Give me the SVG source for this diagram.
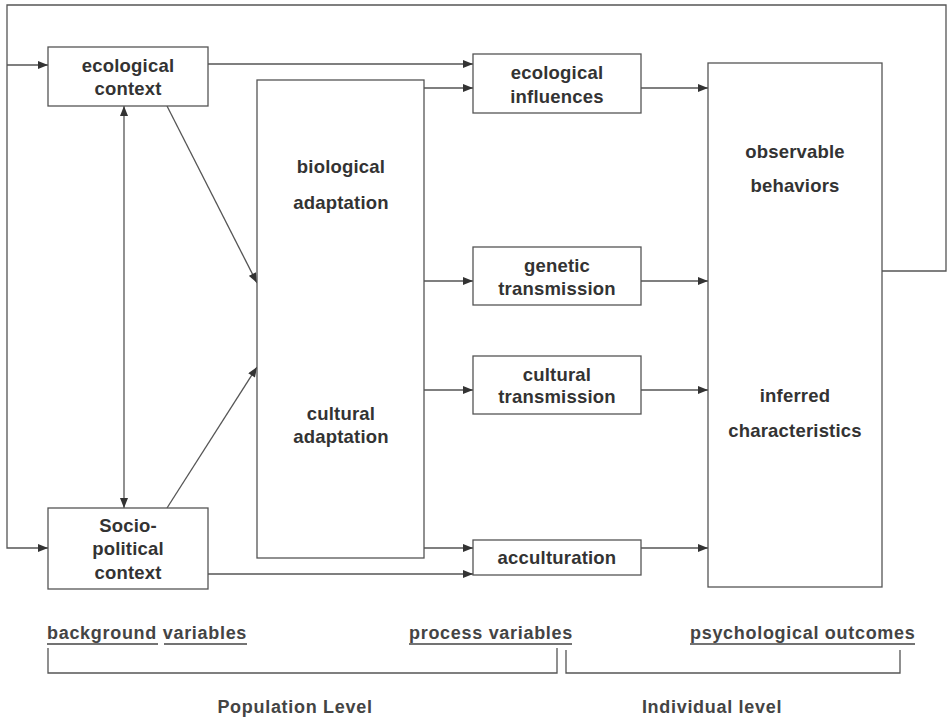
<svg xmlns="http://www.w3.org/2000/svg" width="948" height="719" viewBox="0 0 948 719">
<style>
.box{fill:#fff;stroke:#555;stroke-width:1.3}
.ln{fill:none;stroke:#555;stroke-width:1.3}
.t{font-family:"Liberation Sans",Arial,sans-serif;font-weight:bold;font-size:18.5px;fill:#333;text-anchor:middle;letter-spacing:0.2px}
.b{font-family:"Liberation Sans",Arial,sans-serif;font-weight:bold;font-size:18px;fill:#444;letter-spacing:0.7px}
.u{stroke:#444;stroke-width:1.5}
</style>
<defs>
<marker id="ah" viewBox="0 0 10 8" refX="10" refY="4" markerWidth="11" markerHeight="8" markerUnits="userSpaceOnUse" orient="auto-start-reverse">
<path d="M0,0 L10,4 L0,8 Z" fill="#333"/>
</marker>
</defs>
<rect width="948" height="719" fill="#fff"/>
<g id="connectors">
<path class="ln" d="M882,271 H946 V5 H7 V548 H48" marker-end="url(#ah)"/>
<path class="ln" d="M7,65 H48" marker-end="url(#ah)"/>
<path class="ln" d="M208,64 H473" marker-end="url(#ah)"/>
<path class="ln" d="M424,88 H473" marker-end="url(#ah)"/>
<path class="ln" d="M167,106 L257,283" marker-end="url(#ah)"/>
<path class="ln" d="M167,508 L257,367" marker-end="url(#ah)"/>
<path class="ln" d="M124,106 V508" marker-start="url(#ah)" marker-end="url(#ah)"/>
<path class="ln" d="M424,281 H473" marker-end="url(#ah)"/>
<path class="ln" d="M424,390 H473" marker-end="url(#ah)"/>
<path class="ln" d="M424,548 H473" marker-end="url(#ah)"/>
<path class="ln" d="M208,574 H473" marker-end="url(#ah)"/>
<path class="ln" d="M641,88 H708" marker-end="url(#ah)"/>
<path class="ln" d="M641,281 H708" marker-end="url(#ah)"/>
<path class="ln" d="M641,390 H708" marker-end="url(#ah)"/>
<path class="ln" d="M641,548 H708" marker-end="url(#ah)"/>
</g>
<g id="ecological-context">
<rect class="box" x="48" y="47" width="160" height="59"/>
<text class="t" x="128" y="72">ecological</text>
<text class="t" x="128" y="95">context</text>
</g>
<g id="socio-political-context">
<rect class="box" x="48" y="508" width="160" height="81"/>
<text class="t" x="128" y="532">Socio-</text>
<text class="t" x="128" y="555">political</text>
<text class="t" x="128" y="579">context</text>
</g>
<g id="adaptation">
<rect class="box" x="257" y="80" width="167" height="478"/>
<text class="t" x="341" y="173">biological</text>
<text class="t" x="341" y="209">adaptation</text>
<text class="t" x="341" y="420">cultural</text>
<text class="t" x="341" y="443">adaptation</text>
</g>
<g id="ecological-influences">
<rect class="box" x="473" y="54" width="168" height="59"/>
<text class="t" x="557" y="79">ecological</text>
<text class="t" x="557" y="103">influences</text>
</g>
<g id="genetic-transmission">
<rect class="box" x="473" y="247" width="168" height="58"/>
<text class="t" x="557" y="272">genetic</text>
<text class="t" x="557" y="295">transmission</text>
</g>
<g id="cultural-transmission">
<rect class="box" x="473" y="356" width="168" height="58"/>
<text class="t" x="557" y="381">cultural</text>
<text class="t" x="557" y="403">transmission</text>
</g>
<g id="acculturation">
<rect class="box" x="473" y="540" width="168" height="35"/>
<text class="t" x="557" y="564">acculturation</text>
</g>
<g id="outcomes">
<rect class="box" x="708" y="63" width="174" height="524"/>
<text class="t" x="795" y="158">observable</text>
<text class="t" x="795" y="192">behaviors</text>
<text class="t" x="795" y="402">inferred</text>
<text class="t" x="795" y="437">characteristics</text>
</g>
<g id="levels">
<text class="b" x="47" y="639">background variables</text>
<line class="u" x1="47" y1="644" x2="158" y2="644"/>
<line class="u" x1="164" y1="644" x2="247" y2="644"/>
<text class="b" x="409" y="639">process variables</text>
<line class="u" x1="409" y1="644" x2="572" y2="644"/>
<text class="b" x="690" y="639">psychological outcomes</text>
<line class="u" x1="690" y1="644" x2="915" y2="644"/>
<path class="ln" d="M48,648 V673 H557 V648"/>
<path class="ln" d="M566,650 V673 H900 V650"/>
<text class="b" x="295" y="713" text-anchor="middle">Population Level</text>
<text class="b" x="712" y="713" text-anchor="middle">Individual level</text>
</g>
</svg>
